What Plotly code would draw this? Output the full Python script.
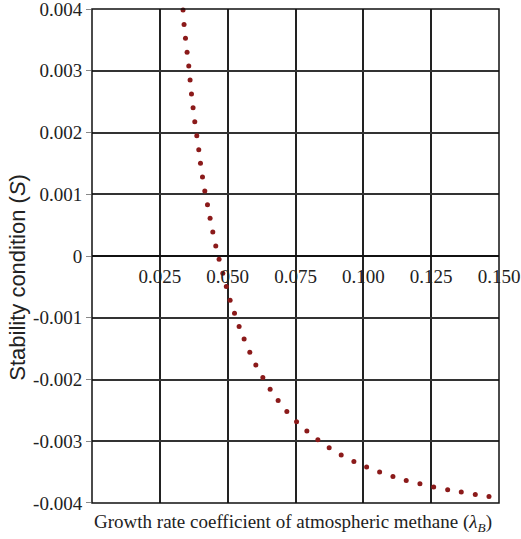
import plotly.graph_objects as go

# Growth rate coefficient (lambda_B) and stability condition (S)
lam = [0.03356, 0.03393, 0.03445, 0.03504, 0.03567, 0.03615, 0.03666, 0.03725, 0.03788, 0.03862,
       0.03935, 0.03998, 0.04072, 0.04157, 0.04256, 0.04352, 0.04452, 0.04562, 0.04684, 0.04821,
       0.04950, 0.05090, 0.05252, 0.05422, 0.05606, 0.05816, 0.06038, 0.06296, 0.06565, 0.06860,
       0.07181, 0.07539, 0.07919, 0.08324, 0.08741, 0.09184, 0.09652, 0.10121, 0.10600, 0.11091,
       0.11581, 0.12086, 0.12592, 0.13108, 0.13610, 0.14126, 0.14631]
S_milli = [3.983, 3.751, 3.525, 3.298, 3.077, 2.850, 2.623, 2.402, 2.175, 1.949,
           1.722, 1.502, 1.280, 1.054, 0.832, 0.612, 0.390, 0.163, -0.052, -0.278,
           -0.495, -0.715, -0.926, -1.143, -1.346, -1.557, -1.767, -1.968, -2.156, -2.340,
           -2.518, -2.685, -2.835, -2.976, -3.106, -3.224, -3.327, -3.418, -3.499, -3.570,
           -3.635, -3.688, -3.742, -3.785, -3.823, -3.861, -3.894]
S = [v / 1000 for v in S_milli]

x_ticks = [0.025, 0.05, 0.075, 0.1, 0.125, 0.15]
x_labels = ["0.025", "0.050", "0.075", "0.100", "0.125", "0.150"]
y_ticks = [0.004, 0.003, 0.002, 0.001, 0, -0.001, -0.002, -0.003, -0.004]
y_labels = ["0.004", "0.003", "0.002", "0.001", "0", "-0.001", "-0.002", "-0.003", "-0.004"]

serif = "Liberation Serif"
sans = "Liberation Sans"

fig = go.Figure()
fig.add_trace(go.Scatter(
    x=lam, y=S, mode="markers",
    marker=dict(size=5, color="#8b1a1a", symbol="circle", line=dict(width=0)),
    showlegend=False, cliponaxis=False,
))

fig.update_layout(
    template="none",
    font=dict(family=serif, size=19, color="#222"),
    width=521, height=539,
    margin=dict(l=92, r=22, t=9, b=36, pad=0),
    paper_bgcolor="white", plot_bgcolor="white",
    xaxis=dict(
        range=[0, 0.15], tickmode="array", tickvals=x_ticks, ticktext=x_labels,
        anchor="free", position=0.5, showline=False, zeroline=False, automargin=False,
        ticks="outside", ticklen=3, tickcolor="rgba(0,0,0,0)",
        showgrid=True, gridcolor="#222", gridwidth=1.5,
        tickfont=dict(family=serif, size=19, color="#222"),
    ),
    yaxis=dict(
        range=[-0.0040001, 0.0040001], tickmode="array", tickvals=y_ticks, ticktext=y_labels,
        showline=False, zeroline=True, zerolinecolor="#111", zerolinewidth=1.5, automargin=False,
        ticks="outside", ticklen=5, tickcolor="#888",
        showgrid=True, gridcolor="#333", gridwidth=1.5,
        ticklabeloverflow="allow",
        tickfont=dict(family=serif, size=19, color="#222"),
    ),
    shapes=[dict(type="rect", xref="paper", yref="paper", x0=0, x1=1, y0=0, y1=1,
                 line=dict(color="#111", width=1.5), fillcolor="rgba(0,0,0,0)")],
    annotations=[
        dict(text="Growth rate coefficient of atmospheric methane (<i>λ</i><sub><i>B</i></sub>)",
             xref="paper", yref="paper", x=0.495, y=-0.04, xanchor="center", yanchor="middle",
             showarrow=False, font=dict(family=serif, size=19, color="#222")),
        dict(text="Stability condition (<i>S</i>)",
             xref="paper", yref="paper", x=-0.183, y=0.457, xanchor="center", yanchor="middle",
             textangle=-90, showarrow=False, font=dict(family=sans, size=22, color="#222")),
    ],
)

fig.write_html("out.html")
